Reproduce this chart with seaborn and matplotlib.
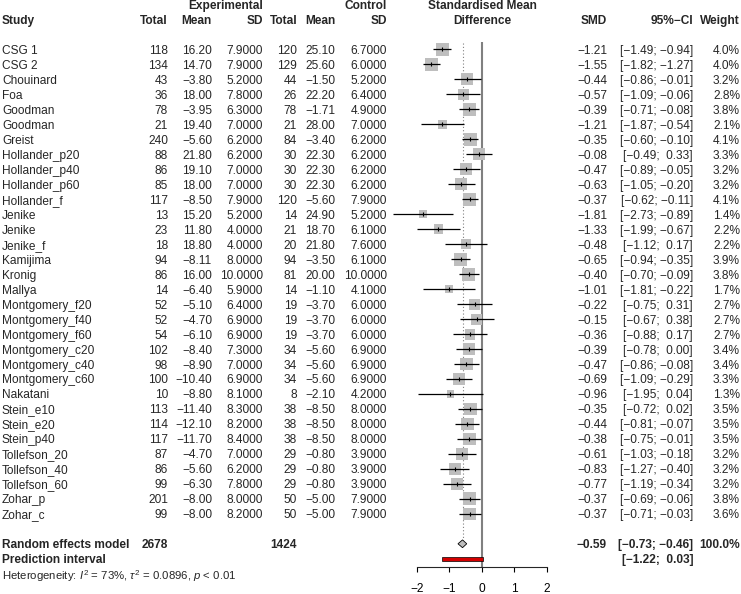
import matplotlib
matplotlib.use("Agg")
import matplotlib.pyplot as plt
import matplotlib.transforms as mtransforms
import numpy as np
import pandas as pd
import seaborn as sns

# study level data
studies = ["CSG 1", "CSG 2", "Chouinard", "Foa", "Goodman", "Goodman", "Greist",
           "Hollander_p20", "Hollander_p40", "Hollander_p60", "Hollander_f",
           "Jenike", "Jenike", "Jenike_f", "Kamijima", "Kronig", "Mallya",
           "Montgomery_f20", "Montgomery_f40", "Montgomery_f60",
           "Montgomery_c20", "Montgomery_c40", "Montgomery_c60", "Nakatani",
           "Stein_e10", "Stein_e20", "Stein_p40", "Tollefson_20", "Tollefson_40",
           "Tollefson_60", "Zohar_p", "Zohar_c"]
exp_n = [118, 134, 43, 36, 78, 21, 240, 88, 86, 85, 117, 13, 23, 18, 94, 86, 14,
         52, 52, 54, 102, 98, 100, 10, 113, 114, 117, 87, 86, 99, 201, 99]
exp_mean = [16.20, 14.70, -3.80, 18.00, -3.95, 19.40, -5.60, 21.80, 19.10, 18.00,
            -8.50, 15.20, 11.80, 18.80, -8.11, 16.00, -6.40, -5.10, -4.70, -6.10,
            -8.40, -8.90, -10.40, -8.80, -11.40, -12.10, -11.70, -4.70, -5.60,
            -6.30, -8.00, -8.00]
exp_sd = [7.9, 7.9, 5.2, 7.8, 6.3, 7.0, 6.2, 6.2, 7.0, 7.0, 7.9, 5.2, 4.0, 4.0,
          8.0, 10.0, 5.9, 6.4, 6.9, 6.9, 7.3, 7.0, 6.9, 8.1, 8.3, 8.2, 8.4, 7.0,
          6.2, 7.8, 8.0, 8.2]
ctl_n = [120, 129, 44, 26, 78, 21, 84, 30, 30, 30, 120, 14, 21, 20, 94, 81, 14,
         19, 19, 19, 34, 34, 34, 8, 38, 38, 38, 29, 29, 29, 50, 50]
ctl_mean = [25.10, 25.60, -1.50, 22.20, -1.71, 28.00, -3.40, 22.30, 22.30, 22.30,
            -5.60, 24.90, 18.70, 21.80, -3.50, 20.00, -1.10, -3.70, -3.70, -3.70,
            -5.60, -5.60, -5.60, -2.10, -8.50, -8.50, -8.50, -0.80, -0.80, -0.80,
            -5.00, -5.00]
ctl_sd = [6.7, 6.0, 5.2, 6.4, 4.9, 7.0, 6.2, 6.2, 6.2, 6.2, 7.9, 5.2, 6.1, 7.6,
          6.1, 10.0, 4.1, 6.0, 6.0, 6.0, 6.9, 6.9, 6.9, 4.2, 8.0, 8.0, 8.0, 3.9,
          3.9, 3.9, 7.9, 7.9]
smd = [-1.21, -1.55, -0.44, -0.57, -0.39, -1.21, -0.35, -0.08, -0.47, -0.63,
       -0.37, -1.81, -1.33, -0.48, -0.65, -0.40, -1.01, -0.22, -0.15, -0.36,
       -0.39, -0.47, -0.69, -0.96, -0.35, -0.44, -0.38, -0.61, -0.83, -0.77,
       -0.37, -0.37]
ci_lo = [-1.49, -1.82, -0.86, -1.09, -0.71, -1.87, -0.60, -0.49, -0.89, -1.05,
         -0.62, -2.73, -1.99, -1.12, -0.94, -0.70, -1.81, -0.75, -0.67, -0.88,
         -0.78, -0.86, -1.09, -1.95, -0.72, -0.81, -0.75, -1.03, -1.27, -1.19,
         -0.69, -0.71]
ci_hi = [-0.94, -1.27, -0.01, -0.06, -0.08, -0.54, -0.10, 0.33, -0.05, -0.20,
         -0.11, -0.89, -0.67, 0.17, -0.35, -0.09, -0.22, 0.31, 0.38, 0.17,
         0.00, -0.08, -0.29, 0.04, 0.02, -0.07, -0.01, -0.18, -0.40, -0.34,
         -0.06, -0.03]
weight = [4.0, 4.0, 3.2, 2.8, 3.8, 2.1, 4.1, 3.3, 3.2, 3.2, 4.1, 1.4, 2.2, 2.2,
          3.9, 3.8, 1.7, 2.7, 2.7, 2.7, 3.4, 3.4, 3.3, 1.3, 3.5, 3.5, 3.5, 3.2,
          3.2, 3.2, 3.8, 3.6]

# pooled results
total_exp, total_ctl = 2678, 1424
re_est, re_lo, re_hi = -0.59, -0.73, -0.46
pi_lo, pi_hi = -1.22, 0.03
heterogeneity = r"Heterogeneity: $I^2$ = 73%, $\tau^2$ = 0.0896, $p$ < 0.01"
x_ticks = [-2, -1, 0, 1, 2]

W, H = 741, 594
FS = 8.6
GREY_BOX = "#BEBEBE"

sns.set_style("ticks")
plt.rcParams["font.family"] = ["Liberation Sans", "DejaVu Sans"]
plt.rcParams["mathtext.fontset"] = "custom"
plt.rcParams["mathtext.rm"] = "Liberation Sans"
plt.rcParams["mathtext.it"] = "Liberation Sans:italic"


def num(v, fmt="{:.2f}"):
    return fmt.format(v).replace("-", "\u2212")


def ci_text(lo, hi):
    parts = []
    for v in (lo, hi):
        s = num(v)
        parts.append(s if v < 0 else " " + s)
    return "[" + parts[0] + "; " + parts[1] + "]"


df = pd.DataFrame({"smd": smd, "weight": weight, "lo": ci_lo, "hi": ci_hi})
df["row"] = np.arange(len(df))
row_re = len(df) + 1
row_pi = len(df) + 2
row_het = len(df) + 3

fig = plt.figure(figsize=(W / 100, H / 100), dpi=100)
ax = fig.add_axes([416.7 / W, 27 / H, 130 / W, 567 / H])
ax.patch.set_alpha(0)

# squares with area proportional to weight
box_area = (13.3 * 0.72) ** 2 / 4.0
size_map = {w: box_area * w for w in sorted(set(weight))}
sns.scatterplot(data=df, x="smd", y="row", size="weight", sizes=size_map,
                marker="s", color=GREY_BOX, linewidth=0, legend=False,
                ax=ax, clip_on=False, zorder=2)
ax.hlines(df["row"], df["lo"], df["hi"], color="black", lw=0.9, zorder=3,
          clip_on=False)
sns.scatterplot(data=df, x="smd", y="row", marker="|", color="black", s=12,
                linewidth=0.8, legend=False, ax=ax, clip_on=False, zorder=4)

# reference lines
ax.vlines(0, -0.52, 34.55, color="gray", lw=1.5, zorder=1, clip_on=False)
ax.vlines(re_est, -0.43, row_re - 0.25, color="gray", lw=0.8,
          linestyles=(0, (1, 2)), zorder=1, clip_on=False)

# summary diamond and prediction interval
h = 0.26
ax.fill([re_lo, re_est, re_hi, re_est], [row_re, row_re - h, row_re, row_re + h],
        facecolor=GREY_BOX, edgecolor="black", lw=0.6, zorder=3, clip_on=False)
ax.barh(row_pi, pi_hi - pi_lo, left=pi_lo, height=0.24, color="#D40000",
        edgecolor="black", lw=0.5, zorder=3, clip_on=False)

ax.set_xlim(-2, 2)
ax.set_ylim(34.55, -3.30)
ax.set_xlabel("")
ax.set_ylabel("")
ax.set_yticks([])
ax.set_xticks(x_ticks)
for side in ["left", "right", "top"]:
    ax.spines[side].set_visible(False)
ax.spines["bottom"].set_bounds(-2, 2)
ax.spines["bottom"].set_linewidth(0.8)
ax.tick_params(axis="x", length=3.8, width=0.8, pad=8, labelsize=FS,
               colors="black")

# text columns: x in figure pixels, y in row units of the forest axes
tr = mtransforms.blended_transform_factory(fig.transFigure, ax.transData)


def put(px, row, s, ha="right", bold=False, size=FS):
    ax.text(px / W, row, s, transform=tr, ha=ha, va="center_baseline",
            fontsize=size, fontweight="bold" if bold else "normal",
            clip_on=False)


put(263, -3, "Experimental", bold=True)
put(387, -3, "Control", bold=True)
put(482, -3, "Standardised Mean", ha="center", bold=True)
put(2, -2, "Study", ha="left", bold=True)
for px, lab in [(168, "Total"), (212, "Mean"), (263, "SD"), (297, "Total"),
                (335, "Mean"), (387, "SD"), (607, "SMD"),
                (693, "95%\u2212CI"), (740, "Weight")]:
    put(px, -2, lab, bold=True)
put(482, -2, "Difference", ha="center", bold=True)

for i in range(len(studies)):
    put(2, i, studies[i], ha="left")
    put(168, i, str(exp_n[i]))
    put(212, i, num(exp_mean[i]))
    put(263, i, num(exp_sd[i], "{:.4f}"))
    put(297, i, str(ctl_n[i]))
    put(335, i, num(ctl_mean[i]))
    put(387, i, num(ctl_sd[i], "{:.4f}"))
    put(607, i, num(smd[i]))
    put(693, i, ci_text(ci_lo[i], ci_hi[i]))
    put(740, i, f"{weight[i]:.1f}%")

put(2, row_re, "Random effects model", ha="left", bold=True)
put(168, row_re, str(total_exp), bold=True)
put(297, row_re, str(total_ctl), bold=True)
put(607, row_re, num(re_est), bold=True)
put(693, row_re, ci_text(re_lo, re_hi), bold=True)
put(740, row_re, "100.0%", bold=True)
put(2, row_pi, "Prediction interval", ha="left", bold=True)
put(693, row_pi, ci_text(pi_lo, pi_hi), bold=True)
put(2, row_het, heterogeneity, ha="left", size=8.2)

fig.savefig("out.png", dpi=100)
